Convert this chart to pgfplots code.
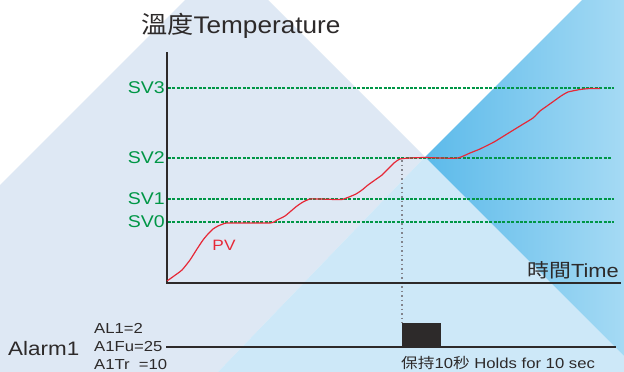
\documentclass[border=0pt]{standalone}
\usepackage{pgfplots}
\pgfplotsset{compat=1.18}
\usepackage{graphicx}
\usepackage{fontspec}
\setmainfont{Liberation Sans}
\newfontfamily\cjk{Noto Sans CJK TC}
\definecolor{pale}{RGB}{222,232,244}
\definecolor{lblue}{RGB}{205,232,248}
\definecolor{bbL}{RGB}{92,186,234}
\definecolor{bbR}{RGB}{165,218,244}
\definecolor{svg}{RGB}{0,150,70}
\definecolor{pvr}{RGB}{230,40,55}
\definecolor{ink}{RGB}{45,42,42}
\definecolor{dotg}{RGB}{130,132,140}
\newcommand{\W}[1]{\scalebox{1.15}[1]{#1}}
\begin{document}
\begin{tikzpicture}
\begin{axis}[scale only axis, width=624pt, height=372pt,
  xmin=0, xmax=624, ymin=0, ymax=372, y dir=reverse,
  hide axis, clip=true]
% background
\addplot[fill=white, draw=none] coordinates {(0,0)(624,0)(624,372)(0,372)};
\addplot[fill=pale, draw=none] coordinates {(185,0)(268,0)(425,157)(218,372)(0,372)(0,185)};
\addplot[fill=lblue, draw=none] coordinates {(425,157)(624,356)(624,372)(218,372)};
\addplot[draw=none, left color=bbL, right color=bbR] coordinates {(425,157)(582,0)(624,0)(624,356)};
% set-value lines
\addplot[svg, line width=1.6pt, dash pattern=on 3pt off 1.4pt] coordinates {(168,88)(614,88)};
\addplot[svg, line width=1.6pt, dash pattern=on 3pt off 1.4pt] coordinates {(168,158)(612,158)};
\addplot[svg, line width=1.6pt, dash pattern=on 3pt off 1.4pt] coordinates {(168,199)(614,199)};
\addplot[svg, line width=1.6pt, dash pattern=on 3pt off 1.4pt] coordinates {(168,222)(614,222)};
% grey dotted marker
\addplot[dotg, line width=1.5pt, dash pattern=on 1.5pt off 3pt] coordinates {(402,160)(402,323)};
% axes
\addplot[ink, line width=2pt] coordinates {(167,52)(167,283)(621,283)};
% PV curve
\addplot[pvr, line width=1.2pt, smooth, tension=0.3] coordinates {
(167,281)(174,276)(182,270)(190,260)(197,249)(203,240)(208,234)(213,229)(218,226)(223,224)(228,223)
(270,223)(277,220)(285,216)(291,211)(297,206)(303,202)(310,199)(320,199)(335,199.5)(342,199.5)
(349,197)(356,194)(362,190)(368,185)(375,180)(382,175)(388,169)(394,163)(400,159)(410,158)
(425,157.5)(440,158)(458,158)(470,153)(480,149)(494,142)(507,134)(520,126)(533,118)(540,111)
(547,106)(554,101)(561,96)(568,92)(580,89.5)(590,88.5)(600,88.5)};
% alarm
\addplot[ink, line width=1.3pt] coordinates {(166,347)(616,347)};
\addplot[fill=ink, draw=none] coordinates {(402,323)(441,323)(441,347)(402,347)};
% texts
\node[anchor=base west, inner sep=0, text=ink] at (axis cs:141,33) {\fontsize{24}{26}\selectfont\scalebox{1.09}[1]{{\cjk 溫度}Temperature}};
\node[anchor=base east, inner sep=0, text=ink] at (axis cs:619,277) {\fontsize{19}{21}\selectfont\W{{\cjk 時間}Time}};
\node[anchor=east, inner sep=0, text=svg] at (axis cs:165,88) {\fontsize{17}{19}\selectfont\W{SV3}};
\node[anchor=east, inner sep=0, text=svg] at (axis cs:165,158) {\fontsize{17}{19}\selectfont\W{SV2}};
\node[anchor=east, inner sep=0, text=svg] at (axis cs:165,199) {\fontsize{17}{19}\selectfont\W{SV1}};
\node[anchor=east, inner sep=0, text=svg] at (axis cs:165,222) {\fontsize{17}{19}\selectfont\W{SV0}};
\node[anchor=center, inner sep=0, text=pvr] at (axis cs:224,245) {\fontsize{15}{17}\selectfont\W{PV}};
\node[anchor=west, inner sep=0, text=ink] at (axis cs:8,349) {\fontsize{19.5}{21}\selectfont\W{Alarm1}};
\node[anchor=west, inner sep=0, text=ink] at (axis cs:94,328) {\fontsize{14.5}{16}\selectfont\W{AL1=2}};
\node[anchor=west, inner sep=0, text=ink] at (axis cs:94,347) {\fontsize{14.5}{16}\selectfont\W{A1Fu=25}};
\node[anchor=west, inner sep=0, text=ink] at (axis cs:94,365) {\fontsize{14.5}{16}\selectfont\W{A1Tr\ \ =10}};
\node[anchor=base west, inner sep=0, text=ink] at (axis cs:401,368) {\fontsize{14.5}{16}\selectfont\W{{\cjk 保持}10{\cjk 秒} Holds for 10 sec}};
\end{axis}
\end{tikzpicture}
\end{document}
